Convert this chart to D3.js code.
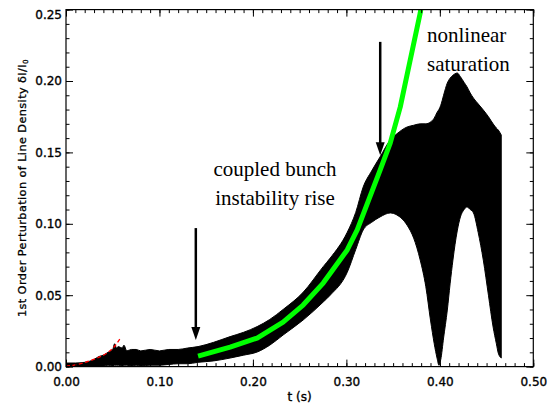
<!DOCTYPE html>
<html><head><meta charset="utf-8">
<script src="https://cdn.jsdelivr.net/npm/d3@7"></script>
<style>
html,body{margin:0;padding:0;background:#fff;}
svg{display:block;}
</style></head>
<body>
<svg id="chart" width="548" height="404"></svg>
<script>
// ---- data ----
const xTicks = [0.00, 0.10, 0.20, 0.30, 0.40, 0.50];
const yTicks = [0.00, 0.05, 0.10, 0.15, 0.20, 0.25];

// envelope of the dense oscillating signal (black)
const sigT  = [0.000,0.010,0.020,0.030,0.035,0.040,0.045,0.050,0.052,0.054,0.056,0.060,0.062,0.065,0.070,0.075,0.080,0.090,0.100,0.110,0.120,0.130,0.1413,0.158,0.1756,0.190,0.2045,0.218,0.2323,0.2537,0.2752,0.2827,0.3009,0.310,0.318,0.327,0.336,0.347,0.354,0.365,0.372,0.379,0.385,0.390,0.394,0.397,0.399,0.401,0.404,0.408,0.411,0.414,0.4186,0.422,0.426,0.429,0.4325,0.436,0.441,0.4465,0.452,0.457,0.4605,0.4625,0.4657];
const sigHi = [0.0025,0.0025,0.003,0.005,0.007,0.008,0.010,0.012,0.016,0.013,0.014,0.013,0.015,0.011,0.012,0.012,0.011,0.012,0.011,0.012,0.012,0.013,0.014,0.017,0.021,0.024,0.028,0.033,0.040,0.052,0.070,0.076,0.094,0.108,0.1258,0.137,0.1468,0.1587,0.163,0.1678,0.169,0.170,0.170,0.1713,0.174,0.178,0.180,0.183,0.190,0.1986,0.202,0.204,0.2056,0.203,0.199,0.196,0.1916,0.188,0.184,0.1797,0.175,0.170,0.167,0.1657,0.1622];
const sigLo = [0.000,0.000,0.000,0.0005,0.0005,0.0005,0.001,0.0005,0.001,0.001,0.001,0.0005,0.001,0.001,0.0005,0.001,0.0005,0.001,0.001,0.0015,0.002,0.002,0.003,0.004,0.006,0.008,0.0102,0.015,0.0221,0.0326,0.0452,0.050,0.066,0.082,0.0957,0.101,0.1048,0.1076,0.1062,0.099,0.090,0.0746,0.056,0.0326,0.016,0.006,0.001,0.005,0.020,0.0396,0.058,0.0746,0.095,0.1048,0.110,0.1118,0.110,0.1076,0.094,0.0746,0.050,0.0277,0.016,0.0095,0.006];

// green exponential fit
const fitT = [0.1413,0.1756,0.2045,0.2323,0.2537,0.2752,0.3009,0.3116,0.3362,0.3469,0.3576,0.3683,0.3790,0.3820];
const fitV = [0.0074,0.0137,0.0200,0.0312,0.0431,0.0585,0.0817,0.0957,0.1377,0.1565,0.1817,0.2147,0.2476,0.2600];

// red dashed early fit
const redT = [0.000,0.0086,0.0193,0.0332,0.0439,0.0514,0.0589];
const redV = [0.0003,0.0011,0.0027,0.0060,0.0095,0.0137,0.0207];

// arrows [t, top value, tip value]
const arrows = [[0.1389,0.097,0.0186],[0.3362,0.2274,0.148]];

// ---- drawing ----
const svg = d3.select("#chart");
const L = 66, R = 533.3, T = 9.6, B = 366.6;
const x = d3.scaleLinear().domain([0,0.5]).range([L,R]);
const y = d3.scaleLinear().domain([0,0.25]).range([B,T]);

svg.append("rect").attr("width",548).attr("height",404).attr("fill","#fff");

svg.append("clipPath").attr("id","clip").append("rect")
  .attr("x",L).attr("y",T).attr("width",R-L).attr("height",B-T);

const plot = svg.append("g").attr("clip-path","url(#clip)");

const sig = sigT.map((t,i)=>({t, hi:sigHi[i], lo:sigLo[i]}));
plot.append("path").datum(sig)
  .attr("d", d3.area().x(d=>x(d.t)).y0(d=>y(d.lo)).y1(d=>y(d.hi)).curve(d3.curveMonotoneX))
  .attr("fill","#000").attr("stroke","#000").attr("stroke-width",1);

const red = redT.map((t,i)=>({t, v:redV[i]}));
plot.append("path").datum(red)
  .attr("d", d3.line().x(d=>x(d.t)).y(d=>y(d.v)).curve(d3.curveMonotoneX))
  .attr("fill","none").attr("stroke","#ff0000").attr("stroke-width",1.3)
  .attr("stroke-dasharray","4,2.5");

const fit = fitT.map((t,i)=>({t, v:fitV[i]}));
plot.append("path").datum(fit)
  .attr("d", d3.line().x(d=>x(d.t)).y(d=>y(d.v)))
  .attr("fill","none").attr("stroke","#00ff00").attr("stroke-width",5)
  .attr("stroke-linejoin","round");

// arrows
arrows.forEach(a=>{
  const ax = x(a[0]), y0 = y(a[1]), y1 = y(a[2]);
  const hl = 13, hw = 4.5;
  svg.append("line").attr("x1",ax).attr("x2",ax).attr("y1",y0).attr("y2",y1-hl+2)
    .attr("stroke","#000").attr("stroke-width",2.5);
  svg.append("path").attr("d",`M${ax-hw},${y1-hl} L${ax+hw},${y1-hl} L${ax},${y1} Z`)
    .attr("fill","#000");
});

// axes
const font = "'DejaVu Sans', sans-serif";
const minorX = d3.range(0,51).map(i=>i/100);
const minorY = d3.range(0,26).map(i=>i/100);

function styleAxis(g){
  g.select(".domain").remove();
  g.selectAll("line").attr("stroke","#000").attr("stroke-width",1);
  g.selectAll("text").attr("font-family",font).attr("font-size",12).attr("fill","#000")
    .attr("stroke","#000").attr("stroke-width",0.35);
}
// bottom
svg.append("g").attr("transform",`translate(0,${B})`)
  .call(d3.axisBottom(x).tickValues(minorX).tickSize(-3.5).tickFormat("")).call(styleAxis);
svg.append("g").attr("transform",`translate(0,${B})`)
  .call(d3.axisBottom(x).tickValues(xTicks).tickSize(-7).tickPadding(10.5).tickFormat(d3.format(".2f"))).call(styleAxis);
// top
svg.append("g").attr("transform",`translate(0,${T})`)
  .call(d3.axisTop(x).tickValues(minorX).tickSize(-3.5).tickFormat("")).call(styleAxis);
svg.append("g").attr("transform",`translate(0,${T})`)
  .call(d3.axisTop(x).tickValues(xTicks).tickSize(-7).tickFormat("")).call(styleAxis);
// left
svg.append("g").attr("transform",`translate(${L},0)`)
  .call(d3.axisLeft(y).tickValues(minorY).tickSize(-3.5).tickFormat("")).call(styleAxis);
const yAx = svg.append("g").attr("transform",`translate(${L},0)`)
  .call(d3.axisLeft(y).tickValues(yTicks).tickSize(-7).tickPadding(4).tickFormat(d3.format(".2f"))).call(styleAxis);
yAx.selectAll(".tick").filter(d=>d===0.25).select("text").attr("dy","0.75em");
// right
svg.append("g").attr("transform",`translate(${R},0)`)
  .call(d3.axisRight(y).tickValues(minorY).tickSize(-3.5).tickFormat("")).call(styleAxis);
svg.append("g").attr("transform",`translate(${R},0)`)
  .call(d3.axisRight(y).tickValues(yTicks).tickSize(-7).tickFormat("")).call(styleAxis);

// frame
svg.append("rect").attr("x",L).attr("y",T).attr("width",R-L).attr("height",B-T)
  .attr("fill","none").attr("stroke","#000").attr("stroke-width",1.2);

// titles
svg.append("text").attr("x",(L+R)/2).attr("y",400.5).attr("text-anchor","middle")
  .attr("font-family",font).attr("font-size",12).attr("stroke","#000").attr("stroke-width",0.35)
  .text("t (s)");

const yt = svg.append("text").attr("transform",`translate(25.5,${(T+B)/2}) rotate(-90)`)
  .attr("text-anchor","middle").attr("font-family",font).attr("font-size",11.3)
  .attr("stroke","#000").attr("stroke-width",0.3).attr("letter-spacing",0.4);
yt.append("tspan").text("1st Order Perturbation of Line Density δI/I");
yt.append("tspan").attr("font-size",7).attr("dy",2.5).text("0");

// annotations
const serif = "'Liberation Serif', 'Times New Roman', serif";
function ann(txt, xx, yy, anchor){
  svg.append("text").attr("x",xx).attr("y",yy).attr("text-anchor",anchor)
    .attr("font-family",serif).attr("font-size",21).attr("fill","#000").text(txt);
}
ann("nonlinear", 427, 42, "start");
ann("saturation", 427, 71, "start");
ann("coupled bunch", 275, 176, "middle");
ann("instability rise", 275, 205, "middle");
</script>
</body></html>
